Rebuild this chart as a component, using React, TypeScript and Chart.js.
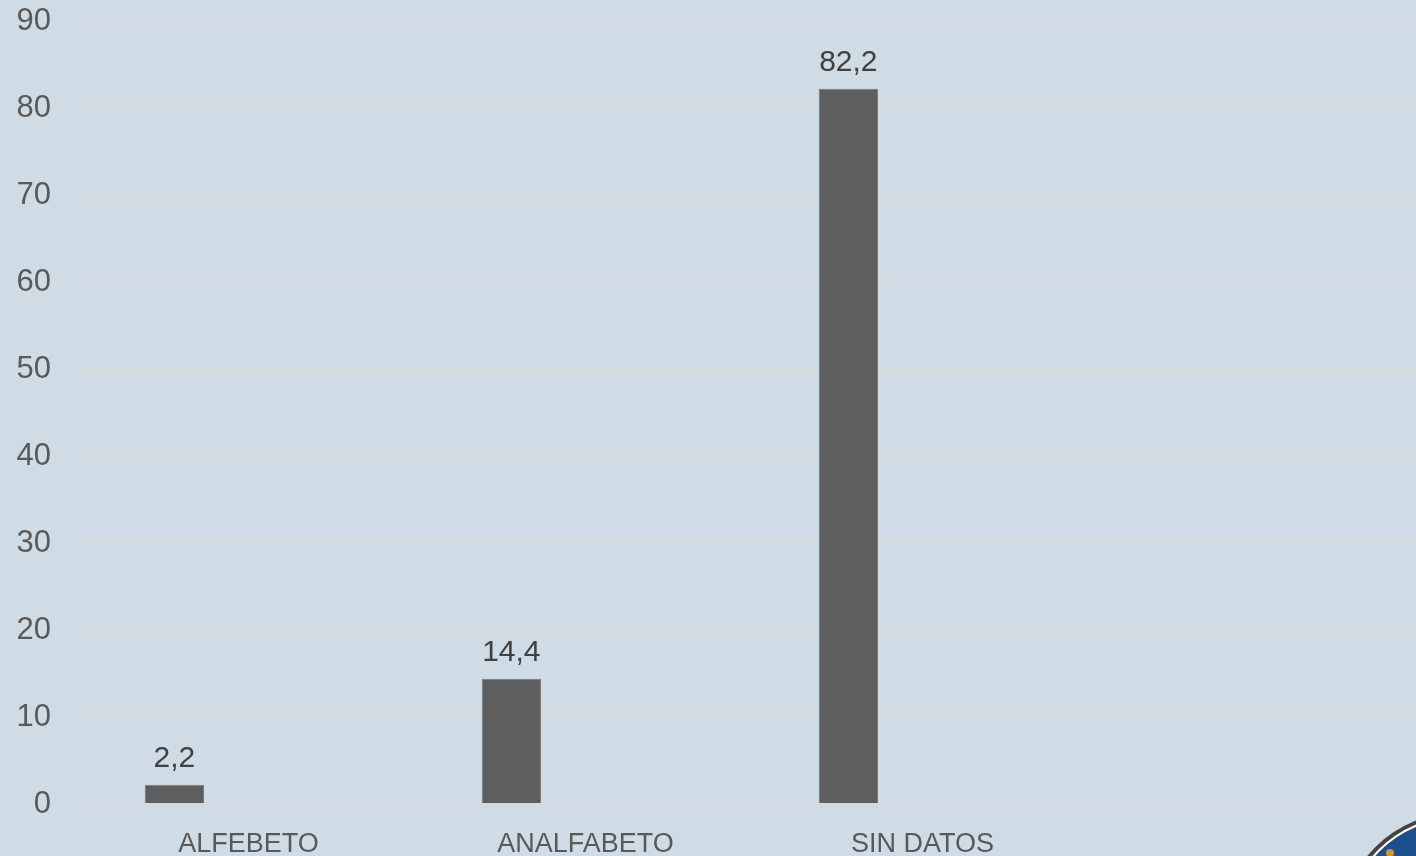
import React, { useEffect, useRef } from "react";
import { Chart, registerables } from "chart.js";

Chart.register(...registerables);

const categories = ["ALFEBETO", "ANALFABETO", "SIN DATOS", ""];
const values: (number | null)[] = [2.2, 14.4, 82.2, null];
const emptySeriesA: (number | null)[] = [null, null, null, null];
const emptySeriesB: (number | null)[] = [null, null, null, null];
const yMin = 0;
const yMax = 90;
const yStep = 10;

const BG = "#cfdbe5";
const BAR = "#5e5e5e";

const valueLabels = {
  id: "valueLabels",
  afterDatasetsDraw(chart: any) {
    const ctx = chart.ctx;
    const meta = chart.getDatasetMeta(0);
    ctx.save();
    ctx.fillStyle = "#404040";
    ctx.font = "30px 'Liberation Sans', Arial, sans-serif";
    ctx.textAlign = "center";
    ctx.textBaseline = "alphabetic";
    meta.data.forEach((el: any, i: number) => {
      const v = values[i];
      if (v == null) return;
      ctx.fillText(String(v).replace(".", ","), el.x, el.y - 18);
    });
    ctx.restore();
  },
};

export default function App() {
  const ref = useRef<HTMLCanvasElement>(null);
  useEffect(() => {
    if (!ref.current) return;
    const chart = new Chart(ref.current, {
      type: "bar",
      data: {
        labels: categories,
        datasets: [
          { data: values, backgroundColor: BAR, borderColor: "#7a7a7a", borderWidth: 1 },
          { data: emptySeriesA, backgroundColor: BAR },
          { data: emptySeriesB, backgroundColor: BAR },
        ],
      },
      options: {
        animation: false,
        responsive: false,
        maintainAspectRatio: false,
        categoryPercentage: 0.66,
        barPercentage: 0.8,
        layout: { padding: { top: 21, right: 2, bottom: 0, left: 0 } },
        plugins: { legend: { display: false }, tooltip: { enabled: false } },
        scales: {
          x: {
            grid: { display: false, drawTicks: false },
            border: { display: false },
            ticks: {
              color: "#595959",
              font: { family: "'Liberation Sans', Arial, sans-serif", size: 27 },
              padding: 24,
              maxRotation: 0,
              autoSkip: false,
            },
            afterFit(scale: any) {
              scale.height = 52;
            },
          },
          y: {
            min: yMin,
            max: yMax,
            grid: { color: "#d9d9d9", lineWidth: 2, drawTicks: true, tickLength: 29, tickColor: "rgba(0,0,0,0)" },
            border: { display: false },
            ticks: {
              stepSize: yStep,
              color: "#595959",
              font: { family: "'Liberation Sans', Arial, sans-serif", size: 31 },
              padding: 0,
            },
            afterFit(scale: any) {
              scale.width = 80;
            },
          },
        },
      },
      plugins: [valueLabels],
    });
    return () => chart.destroy();
  }, []);

  return (
    <div
      style={{
        position: "fixed",
        left: 0,
        top: 0,
        width: 1416,
        height: 856,
        overflow: "hidden",
        background: BG,
      }}
    >
      <canvas ref={ref} width={1430} height={856} style={{ position: "absolute", left: 0, top: 0 }} />
      <div
        style={{
          position: "absolute",
          left: 1460 - 120,
          top: 932 - 120,
          width: 240,
          height: 240,
          borderRadius: "50%",
          background: "#444",
          boxSizing: "border-box",
          padding: 4,
        }}
      >
        <div
          style={{
            width: "100%",
            height: "100%",
            borderRadius: "50%",
            background: "#fff",
            boxSizing: "border-box",
            padding: 2,
          }}
        >
          <div style={{ width: "100%", height: "100%", borderRadius: "50%", background: "#1b4f8e", position: "relative" }}>
            <div
              style={{
                position: "absolute",
                left: 1390 - 1346 - 4,
                top: 853 - 818 - 4,
                width: 8,
                height: 8,
                borderRadius: "50%",
                background: "#e0902a",
              }}
            />
          </div>
        </div>
      </div>
    </div>
  );
}
